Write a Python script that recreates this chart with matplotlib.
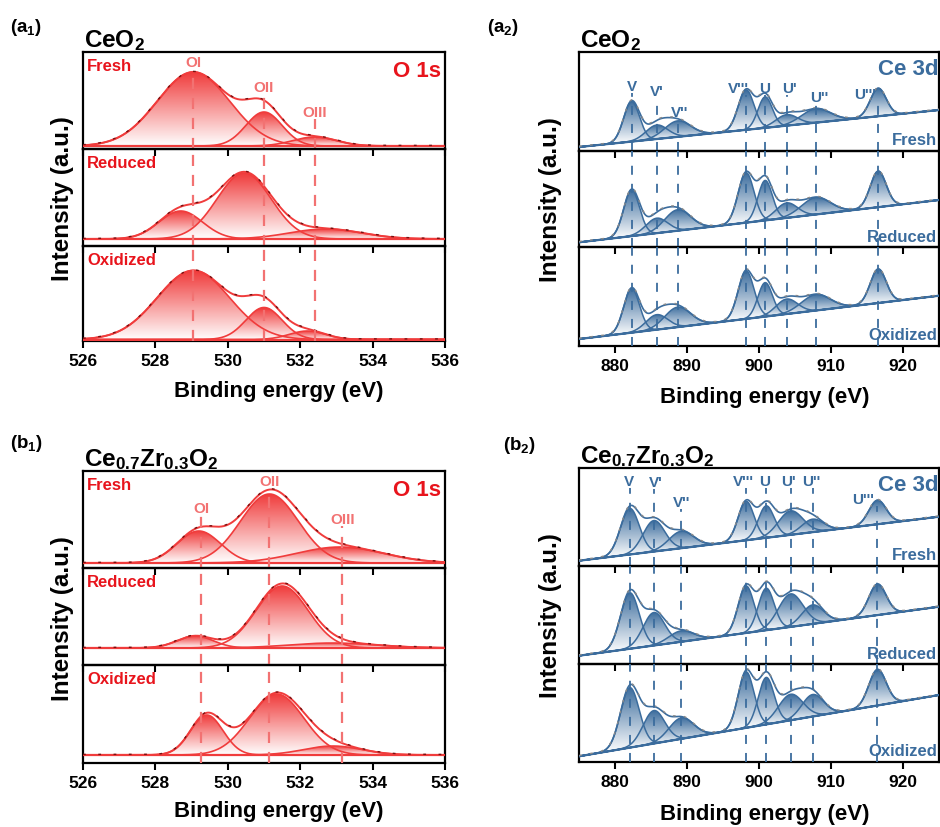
import numpy as np
import matplotlib
matplotlib.use('Agg')
import matplotlib.pyplot as plt
from matplotlib.patches import Polygon
from matplotlib.colors import LinearSegmentedColormap

plt.rcParams['font.family'] = ['Liberation Sans', 'DejaVu Sans']
plt.rcParams['font.weight'] = 'bold'
plt.rcParams['mathtext.fontset'] = 'custom'
plt.rcParams['mathtext.rm'] = 'Liberation Sans:bold'
plt.rcParams['mathtext.it'] = 'Liberation Sans:bold'
plt.rcParams['mathtext.bf'] = 'Liberation Sans:bold'
plt.rcParams['mathtext.default'] = 'rm'

states = ['Fresh', 'Reduced', 'Oxidized']

# ---- O 1s of CeO2 (a1): peak centre (eV), height (a.u.), sigma (eV)
a1_center = [[529.05, 531.0, 532.4], [528.7, 530.45, 532.7], [529.05, 531.0, 532.2]]
a1_height = [[74, 34, 9], [28, 66, 10], [69, 32, 8.5]]
a1_sigma = [[1.0, 0.5, 0.6], [0.6, 0.75, 1.0], [1.0, 0.5, 0.5]]
a1_base = [3, 7, 1.5]
a1_refs = [529.05, 531.0, 532.4]

# ---- O 1s of Ce0.7Zr0.3O2 (b1)
b1_center = [[529.2, 531.15, 533.1], [529.1, 531.5, 532.9], [529.42, 531.35, 532.9]]
b1_height = [[32, 69, 16], [12, 62, 5], [40, 61, 9]]
b1_sigma = [[0.6, 0.8, 1.2], [0.5, 0.72, 1.2], [0.45, 0.75, 0.8]]
b1_base = [5, 17, 8]
b1_refs = [529.26, 531.15, 533.16]

o_names = ['OI', 'OII', 'OIII']

# ---- Ce 3d of CeO2 (a2)
a2_center = [882.3, 885.8, 888.7, 898.2, 900.85, 903.85, 907.9, 916.55]
a2_height = [[40, 14, 16, 40, 31, 11, 14, 28],
             [46, 15, 21, 50, 40, 15, 17, 36],
             [44, 15, 20, 48, 34, 15, 16, 34]]
a2_sigma = [1.1, 1.5, 1.8, 1.1, 1.0, 1.5, 2.0, 1.1]
a2_bg = [(3.7, 40.7), (5, 47.3), (6.7, 50)]   # background at 875 / 925 eV

# ---- Ce 3d of Ce0.7Zr0.3O2 (b2)
b2_center = [882.06, 885.4, 889.2, 898.2, 901.0, 904.4, 907.45, 916.45]
b2_height = [[46, 31, 17, 39, 32, 24, 13, 24],
             [56, 33, 11, 47, 42, 33, 19, 31],
             [60, 33, 21, 56, 47, 26, 22, 36]]
b2_sigma = [1.3, 1.5, 1.7, 1.1, 1.1, 1.7, 1.5, 1.2]
b2_bg = [(5, 49), (8.3, 57.3), (5.4, 66.7)]

ce_names = ["V", "V'", "V''", "V'''", "U", "U'", "U''", "U'''"]

RED = '#f03c3c'
RED_TXT = '#e8141c'
RED_LIGHT = '#f27272'
RAW_RED = '#7a1010'
BLUE = '#3b6c9d'
RAW_GREY = '#8a8a8a'

W, H = 940, 828
fig = plt.figure(figsize=(9.4, 8.28), dpi=100)


def make_axes(left, right, bounds):
    axes = []
    for i in range(3):
        y0, y1 = bounds[i], bounds[i + 1]
        ax = fig.add_axes([left / W, 1 - y1 / H, (right - left) / W, (y1 - y0) / H])
        ax.set_facecolor('none')
        ax.set_ylim(0, y1 - y0)
        ax.set_yticks([])
        for s in ax.spines.values():
            s.set_linewidth(1.6)
        ax.tick_params(axis='x', direction='out', length=5, width=1.5,
                       labelsize=12.5, top=False)
        axes.append(ax)
    return axes


def gauss(x, c, h, s):
    return h * np.exp(-0.5 * ((x - c) / s) ** 2)


def grad_fill(ax, x, lower, upper, color, z):
    keep = (upper - lower) > 0.004 * (upper - lower).max()
    x, lower, upper = x[keep], lower[keep], upper[keep]
    verts = np.column_stack([np.r_[x, x[::-1]], np.r_[upper, lower[::-1]]])
    poly = Polygon(verts, closed=True, facecolor='none', edgecolor='none')
    ax.add_patch(poly)
    cmap = LinearSegmentedColormap.from_list('g', ['white', color])
    grad = np.linspace(0, 1, 256).reshape(-1, 1)
    im = ax.imshow(grad, cmap=cmap, origin='lower', aspect='auto', zorder=z,
                   extent=[x.min(), x.max(), lower.min(), upper.max()])
    im.set_clip_path(poly)


def draw_o1s(axes, centers, heights, sigmas, bases, refs, label_y, xlim):
    x = np.linspace(xlim[0], xlim[1], 800)
    for i, ax in enumerate(axes):
        base = np.full_like(x, bases[i])
        total = base.copy()
        for k, (c, h, s) in enumerate(zip(centers[i], heights[i], sigmas[i])):
            g = gauss(x, c, h, s)
            total += g
            grad_fill(ax, x, base, base + g, RED, 2 + k)
            ax.plot(x, base + g, color=RED, lw=1.2, zorder=5)
        ax.plot(x, base, color=RED, lw=1.6, zorder=5)
        ax.plot(x, total, color=RED, lw=1.4, zorder=6)
        ax.plot(x, total + 0.6, color=RAW_RED, lw=1.0, dashes=(2, 9), zorder=7)
        ax.set_xlim(*xlim)
        top = ax.get_ylim()[1]
        for r, ly in zip(refs, label_y):
            y_end = ly - 7 if i == 0 else top
            ax.plot([r, r], [0, y_end], color=RED_LIGHT, lw=1.6, dashes=(5, 4), zorder=8)
        ax.text(0.012, 0.86, states[i], transform=ax.transAxes, color=RED_TXT,
                fontsize=12, ha='left', va='center')
    for r, ly, name in zip(refs, label_y, o_names):
        axes[0].text(r, ly, name, color=RED_LIGHT, fontsize=11, ha='center', va='center', zorder=9)
    axes[0].text(0.99, 0.81, 'O 1s', transform=axes[0].transAxes, color=RED_TXT,
                 fontsize=16, ha='right', va='center')


def draw_ce3d(axes, centers, heights, sigmas, bgs, label_pos, xlim):
    x = np.linspace(xlim[0], xlim[1], 1000)
    for i, ax in enumerate(axes):
        b0, b1 = bgs[i]
        bg = b0 + (b1 - b0) * (x - xlim[0]) / (xlim[1] - xlim[0])
        total = bg.copy()
        for k, (c, h, s) in enumerate(zip(centers, heights[i], sigmas)):
            g = gauss(x, c, h, s)
            total += g
            grad_fill(ax, x, bg, bg + g, BLUE, 2 + k * 0.1)
            ax.plot(x, bg + g, color=BLUE, lw=1.1, zorder=5)
        ax.plot(x, bg, color=BLUE, lw=1.6, zorder=5)
        ax.plot(x, total, color=BLUE, lw=1.2, zorder=6)
        ax.plot(x, total + 0.8, color=RAW_GREY, lw=1.0, dashes=(2, 6), zorder=7)
        ax.set_xlim(*xlim)
        top = ax.get_ylim()[1]
        for c, (lx, ly) in zip(centers, label_pos):
            y_end = ly - 7 if i == 0 else top
            ax.plot([c, c], [0, y_end], color=BLUE, lw=1.3, dashes=(5, 5), zorder=8)
        ax.text(0.995, 0.11, states[i], transform=ax.transAxes, color=BLUE,
                fontsize=12, ha='right', va='center', zorder=9)
    for (lx, ly), name in zip(label_pos, ce_names):
        axes[0].text(lx, ly, name, color=BLUE, fontsize=11, ha='center', va='center', zorder=9)
    axes[0].text(0.999, 0.83, 'Ce 3d', transform=axes[0].transAxes, color=BLUE,
                 fontsize=16, ha='right', va='center')


def finish(axes, ticks):
    for ax in axes:
        ax.set_xticks(ticks)
    for ax in axes[:2]:
        ax.tick_params(labelbottom=False)


# ---------------- layout ----------------
ax_a1 = make_axes(83, 445, [53, 150, 247, 342])
ax_a2 = make_axes(579, 939, [53, 151.7, 248.3, 346.7])
ax_b1 = make_axes(83, 445, [472, 569, 666, 764])
ax_b2 = make_axes(579, 939, [469.3, 566.7, 665, 762.7])

draw_o1s(ax_a1, a1_center, a1_height, a1_sigma, a1_base, a1_refs, [87, 62, 37], (526, 536))
draw_o1s(ax_b1, b1_center, b1_height, b1_sigma, b1_base, b1_refs, [60, 87, 49], (526, 536))
draw_ce3d(ax_a2, a2_center, a2_height, a2_sigma, a2_bg,
          [(882.3, 64.7), (885.8, 59.7), (888.9, 38.7), (897.2, 62.7),
           (900.85, 62.7), (904.2, 62.7), (908.4, 53.7), (914.7, 56.7)], (875, 925))
draw_ce3d(ax_b2, b2_center, b2_height, b2_sigma, b2_bg,
          [(882.0, 85), (885.6, 83.7), (889.2, 64), (897.8, 85),
           (900.8, 85), (904.1, 85), (907.2, 85), (914.4, 66.7)], (875, 925))

finish(ax_a1, np.arange(526, 537, 2))
finish(ax_b1, np.arange(526, 537, 2))
finish(ax_a2, np.arange(880, 921, 10))
finish(ax_b2, np.arange(880, 921, 10))

# ---------------- titles and labels ----------------
ax_a1[0].text(0.003, 1.005, 'CeO$_2$', transform=ax_a1[0].transAxes, fontsize=17.5, va='bottom')
ax_a2[0].text(0.003, 1.005, 'CeO$_2$', transform=ax_a2[0].transAxes, fontsize=17.5, va='bottom')
ax_b1[0].text(0.003, 1.005, 'Ce$_{0.7}$Zr$_{0.3}$O$_2$', transform=ax_b1[0].transAxes,
              fontsize=17.5, va='bottom')
ax_b2[0].text(0.003, 1.005, 'Ce$_{0.7}$Zr$_{0.3}$O$_2$', transform=ax_b2[0].transAxes,
              fontsize=17.5, va='bottom')

for txt, px, py in [('(a$_1$)', 10, 28), ('(a$_2$)', 487, 28),
                    ('(b$_1$)', 10, 443), ('(b$_2$)', 503, 445)]:
    fig.text(px / W, 1 - py / H, txt, fontsize=13.5, ha='left', va='center')

for px, py in [(62, 199), (551, 200), (62, 619), (551, 616)]:
    fig.text(px / W, 1 - py / H, 'Intensity (a.u.)', fontsize=17.5, rotation=90,
             ha='center', va='center')

for px, py in [(279, 392), (765, 398), (279, 812), (765, 815)]:
    fig.text(px / W, 1 - py / H, 'Binding energy (eV)', fontsize=16, ha='center', va='center')

fig.savefig('out.png', dpi=100)
